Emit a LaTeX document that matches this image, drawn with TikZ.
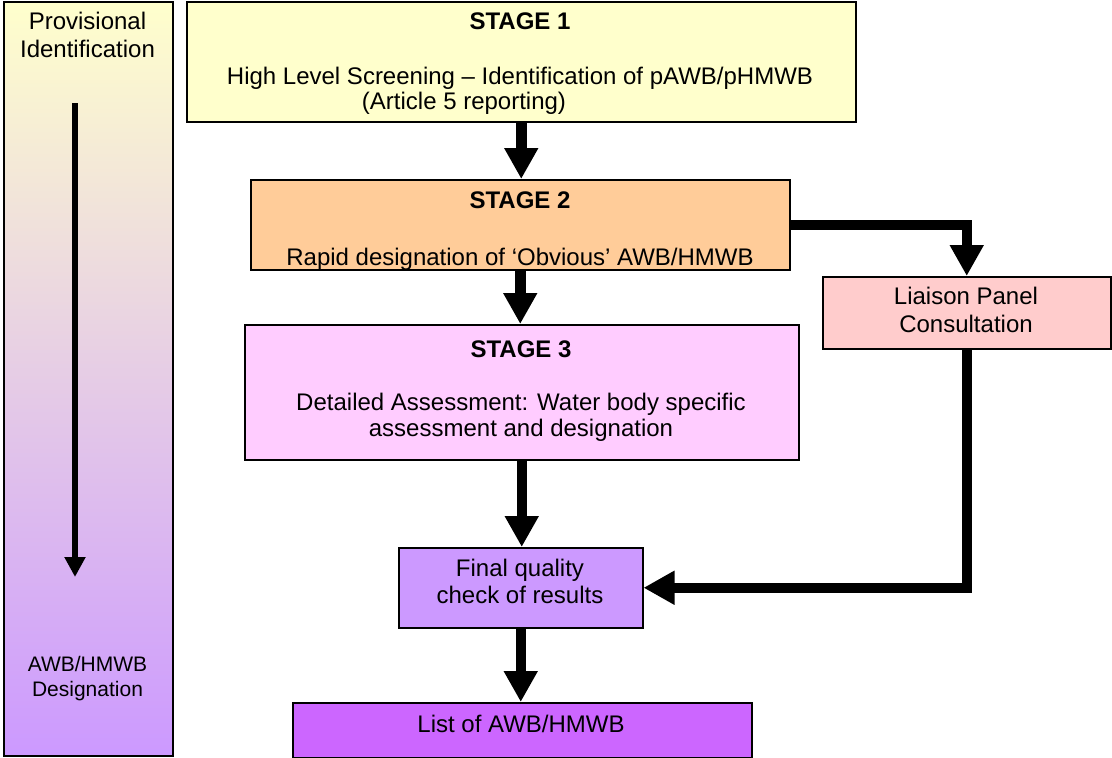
\documentclass[tikz,border=0pt]{standalone}
\usepackage{fontspec}
\setmainfont{Liberation Sans}
\usetikzlibrary{arrows.meta}

\definecolor{stageone}{HTML}{FFFFCC}
\definecolor{stagetwo}{HTML}{FFCC99}
\definecolor{stagethree}{HTML}{FFCCFF}
\definecolor{liaisonfill}{HTML}{FFCCCC}
\definecolor{finalfill}{HTML}{CC99FF}
\definecolor{listfill}{HTML}{CC66FF}
\definecolor{bartop}{HTML}{FFFFCC}
\definecolor{barbottom}{HTML}{CC99FF}

\begin{document}
\begin{tikzpicture}[x=1pt, y=-1pt,
  box/.style={draw=black, line width=1.5pt, inner sep=0pt, anchor=north west},
  txt/.style={font=\fontsize{24}{27}\selectfont, inner sep=0pt, anchor=base},
  txtbold/.style={font=\fontsize{24}{27}\selectfont\bfseries, inner sep=0pt, anchor=base},
  txtsmall/.style={font=\fontsize{21}{25}\selectfont, inner sep=0pt, anchor=base},
  flow/.style={line width=10.5pt, line join=miter, -{Triangle[length=31pt,width=32pt]}},
  trend/.style={line width=6pt, -{Triangle[length=20pt,width=20pt]}}
]
\path[use as bounding box] (0,0) rectangle (1112,758);

% ---- side bar: provisional identification to designation ----
\node[box, minimum width=169pt, minimum height=754pt,
      top color=bartop, bottom color=barbottom] (bar) at (3,1) {};
\node[txt] (barA) at (87.5,29) {Provisional};
\node[txt] (barB) at (87.5,57) {Identification};
\node[txtsmall] (barC) at (87.5,671) {AWB/HMWB};
\node[txtsmall] (barD) at (87.5,696) {Designation};
\coordinate (trendStart) at (75,103);
\coordinate (trendEnd) at (75,577);
\draw[trend] (trendStart) -- (trendEnd);

% ---- process boxes ----
\node[box, fill=stageone, minimum width=669pt, minimum height=120pt] (st1) at (186,1) {};
\node[box, fill=stagetwo, minimum width=539pt, minimum height=90pt] (st2) at (250,179) {};
\node[box, fill=stagethree, minimum width=554pt, minimum height=135pt] (st3) at (244,324) {};
\node[box, fill=liaisonfill, minimum width=288pt, minimum height=72pt] (lia) at (822,276) {};
\node[box, fill=finalfill, minimum width=244pt, minimum height=80pt] (fin) at (398,547) {};
\node[box, fill=listfill, minimum width=459pt, minimum height=55pt] (lst) at (292,702) {};

% ---- box texts ----
\node[txtbold] (st1a) at (520,29) {STAGE 1};
\node[txt] (st1b) at (520,84) {High Level Screening -- Identification of pAWB/pHMWB};
\node[txt] (st1c) at (464,109) {(Article 5 reporting)};

\node[txtbold] (st2a) at (520,208) {STAGE 2};
% the second line is cut off by the lower edge of its text frame
\begin{scope}
  \clip (st2.north west) rectangle ([yshift=2.5pt]st2.south east);
  \node[txt] (st2b) at (520,265) {Rapid designation of ‘Obvious’ AWB/HMWB};
\end{scope}

\node[txtbold] (st3a) at (521,357) {STAGE 3};
\node[txt] (st3b) at (521,410) {Detailed Assessment: Water body specific};
\node[txt] (st3c) at (521,436) {assessment and designation};

\node[txt] (liaA) at (966,304) {Liaison Panel};
\node[txt] (liaB) at (966,332) {Consultation};

\node[txt] (finA) at (520,576) {Final quality};
\node[txt] (finB) at (520,603) {check of results};

\node[txt] (lstA) at (521,732) {List of AWB/HMWB};

% ---- connectors ----
\draw[flow] (st1.south) -- (st1.south |- st2.north);
\draw[flow] (st2.south) -- (st2.south |- st3.north);
\draw[flow] (st3.south) -- (st3.south |- fin.north);
\draw[flow] (fin.south) -- (fin.south |- lst.north);
\draw[flow] (st2.east) -| (lia.north);
\draw[flow] (lia.south) |- (fin.east);
\end{tikzpicture}
\end{document}
